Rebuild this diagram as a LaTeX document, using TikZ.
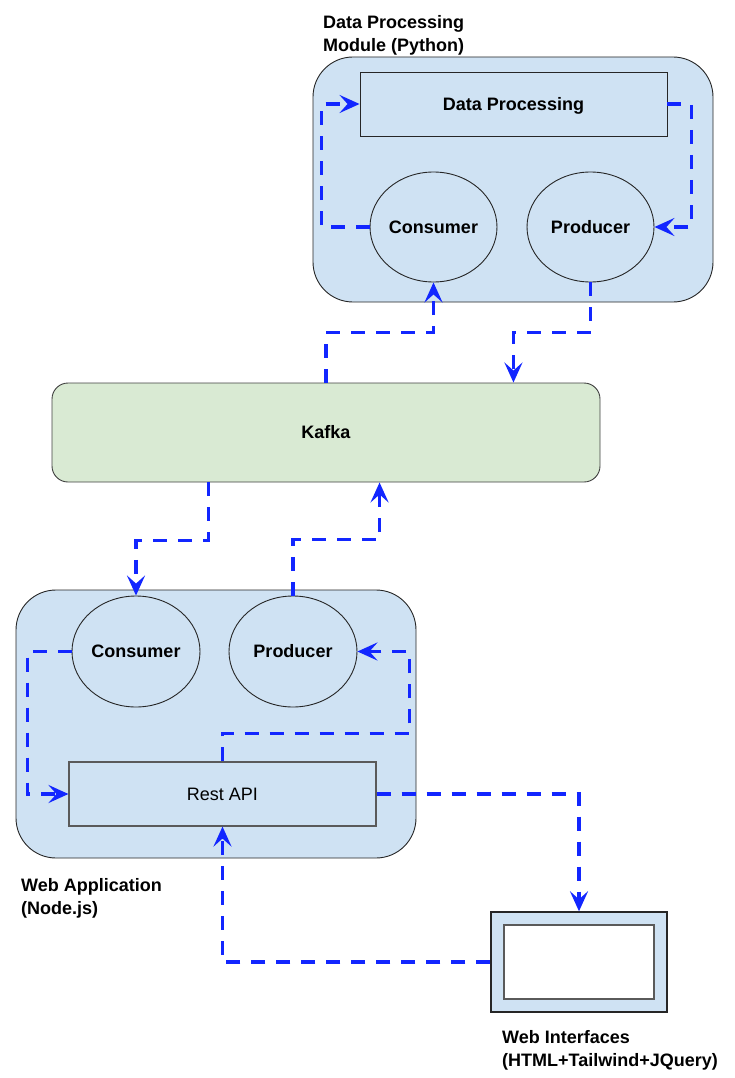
\documentclass[tikz,border=0pt]{standalone}
\usepackage{fontspec}
\setmainfont{Liberation Sans}
\usetikzlibrary{arrows.meta,shapes.geometric,calc}
\definecolor{boxblue}{RGB}{207,226,243}
\definecolor{kafkagreen}{RGB}{217,234,211}
\definecolor{flowblue}{RGB}{18,38,255}
\definecolor{edgegray}{RGB}{90,90,90}
\tikzset{
  txt/.style={text height=12.9pt, text depth=0pt},
  container/.style={draw=black!85, line width=0.9pt, fill=boxblue, rounded corners=40pt, inner sep=0pt},
  boxnode/.style={txt, draw=black!85, line width=0.9pt, fill=boxblue, inner sep=0pt, font=\fontsize{18}{21}\selectfont\bfseries},
  ellnode/.style={txt, ellipse, draw=black!85, line width=0.9pt, fill=boxblue, inner sep=0pt, font=\fontsize{18}{21}\selectfont\bfseries},
  kafkanode/.style={txt, draw=black!75, line width=0.9pt, fill=kafkagreen, rounded corners=16pt, inner sep=0pt, font=\fontsize{18}{21}\selectfont\bfseries},
  lbl/.style={anchor=north west, inner sep=0pt, align=left, font=\fontsize{18}{23}\selectfont\bfseries},
  flow/.style={draw=flowblue, line width=3.5pt, dash pattern=on 14pt off 11pt, line join=miter,
    -{Stealth[length=20pt,width=18pt,inset=8pt]}}
}
\begin{document}
\begin{tikzpicture}[x=1pt,y=-1pt]
\useasboundingbox (0,0) rectangle (734,1078);
% containers
\node[container, minimum width=400pt, minimum height=245pt] (mod) at (513,179.5) {};
\node[container, minimum width=400pt, minimum height=268pt] (app) at (216,724) {};
% data processing module
\node[boxnode, minimum width=307pt, minimum height=64pt] (dp) at (513.5,104) {Data Processing};
\node[ellnode, minimum width=127pt, minimum height=110pt] (c1) at (433.5,227) {Consumer};
\node[ellnode, minimum width=127pt, minimum height=110pt] (p1) at (590.5,227) {Producer};
% kafka
\node[kafkanode, minimum width=548pt, minimum height=99pt] (kafka) at (326,432.5) {Kafka};
% web application
\node[ellnode, minimum width=128pt, minimum height=111pt] (c2) at (136,651.5) {Consumer};
\node[ellnode, minimum width=128pt, minimum height=111pt] (p2) at (293,651.5) {Producer};
\node[txt, draw=edgegray, line width=1.1pt, fill=boxblue, inner sep=0pt, minimum width=307pt, minimum height=64pt,
      font=\fontsize{18}{21}\selectfont] (api) at (222.5,794) {Rest API};
% web interface
\node[draw=black!85, line width=1.4pt, fill=boxblue, inner sep=0pt, minimum width=176pt, minimum height=100pt] (web) at (579,962) {};
\node[draw=edgegray, line width=1.8pt, fill=white, inner sep=0pt, minimum width=150pt, minimum height=74pt] (webin) at (579,962) {};
% labels
\node[lbl] (lmod) at (323,15) {Data Processing\\Module (Python)};
\node[lbl] (lapp) at (21,878) {Web Application\\(Node.js)};
\node[lbl] (lweb) at (502,1030) {Web Interfaces\\(HTML+Tailwind+JQuery)};
% flows
\draw[flow] (c1.west) -- ++(-48,0) |- (dp.west);
\draw[flow] (dp.east) -- ++(24,0) |- (p1.east);
\draw[flow] (kafka.north) -- ++(0,-50) -| (c1.south);
\draw[flow] (p1.south) -- ++(0,50) -| ($(kafka.north east)+(-87,0)$);
\draw[flow] ($(kafka.south west)+(157,0)$) -- ++(0,58) -| (c2.north);
\draw[flow] (p2.north) -- ++(0,-56) -| ($(kafka.south west)+(328,0)$);
\draw[flow] (c2.west) -- ++(-44,0) |- (api.west);
\draw[flow] (api.north) -- ++(0,-28) -| ($(p2.east)+(52,0)$) -- (p2.east);
\draw[flow] (api.east) -| (web.north);
\draw[flow] (web.west) -| (api.south);
\end{tikzpicture}
\end{document}
